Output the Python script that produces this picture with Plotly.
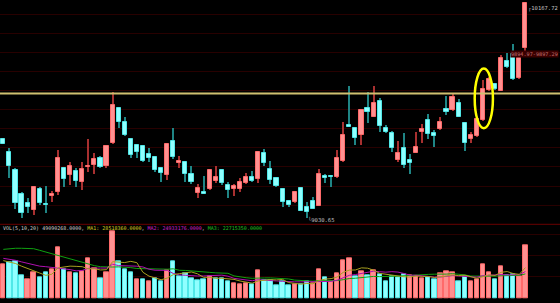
import numpy as np
import pandas as pd
import plotly.graph_objects as go

# ---------------- data ----------------
opens = [9446, 9377, 9284, 9157, 9109, 9074, 9183, 9107, 9146, 9170,
         9293, 9258, 9279, 9223, 9300, 9311, 9349, 9304, 9425, 9609,
         9538, 9447, 9416, 9409, 9367, 9354, 9295, 9258, 9437, 9323,
         9326, 9262, 9162, 9170, 9183, 9225, 9284, 9207, 9184, 9186,
         9217, 9247, 9237, 9375, 9289, 9241, 9184, 9119, 9114, 9188,
         9091, 9121, 9096, 9253, 9253, 9246, 9332, 9523, 9504, 9468,
         9609, 9565, 9649, 9507, 9481, 9337, 9398, 9335, 9375, 9486,
         9547, 9481, 9500, 9605, 9600, 9635, 9530, 9446, 9465, 9547,
         9705, 9737, 9702, 9858, 9893, 9767, 9925]
highs = [9449, 9402, 9293, 9167, 9135, 9196, 9193, 9200, 9174, 9389,
         9296, 9328, 9293, 9328, 9446, 9372, 9359, 9412, 9693, 9612,
         9562, 9451, 9419, 9416, 9398, 9359, 9302, 9425, 9507, 9359,
         9332, 9305, 9212, 9254, 9289, 9307, 9289, 9223, 9211, 9241,
         9268, 9279, 9384, 9395, 9332, 9249, 9188, 9128, 9174, 9191,
         9117, 9144, 9288, 9263, 9258, 9389, 9538, 9726, 9512, 9604,
         9696, 9726, 9662, 9521, 9491, 9439, 9477, 9368, 9486, 9525,
         9577, 9495, 9565, 9675, 9691, 9656, 9533, 9484, 9556, 9758,
         9772, 9741, 9889, 9898, 9946, 9894.97, 10167.72]
lows = [9420, 9241, 9079, 9033, 9059, 9047, 9100, 9059, 9114, 9153,
        9196, 9205, 9193, 9177, 9275, 9262, 9296, 9293, 9419, 9504,
        9465, 9346, 9349, 9328, 9325, 9272, 9223, 9232, 9342, 9293,
        9223, 9212, 9138, 9156, 9181, 9217, 9205, 9135, 9147, 9167,
        9209, 9223, 9216, 9307, 9212, 9193, 9091, 9091, 9109, 9068,
        9030.65, 9077, 9095, 9217, 9196, 9241, 9328, 9509, 9416, 9416,
        9530, 9562, 9486, 9481, 9381, 9328, 9293, 9263, 9372, 9425,
        9446, 9407, 9495, 9574, 9596, 9562, 9386, 9428, 9460, 9544,
        9702, 9705, 9700, 9819, 9758, 9762, 9897.29]
closes = [9423, 9304, 9111, 9058, 9090, 9195, 9109, 9098, 9156, 9346,
          9237, 9304, 9226, 9289, 9304, 9342, 9300, 9411, 9626, 9538,
          9468, 9363, 9381, 9332, 9347, 9286, 9270, 9421, 9351, 9332,
          9262, 9223, 9191, 9156, 9284, 9246, 9217, 9177, 9202, 9219,
          9247, 9226, 9381, 9321, 9232, 9200, 9117, 9100, 9170, 9069,
          9065, 9079, 9263, 9244, 9246, 9346, 9468, 9511, 9451, 9600,
          9588, 9638, 9516, 9486, 9402, 9375, 9311, 9323, 9407, 9500,
          9474, 9465, 9535, 9589, 9667, 9565, 9425, 9468, 9553, 9709,
          9763, 9709, 9872, 9825, 9763, 9872, 10165]
# volume in millions
volumes = [31.8, 33.3, 34.6, 21.8, 18.1, 24.0, 19.3, 24.0, 27.1, 47.6,
           26.8, 24.6, 23.0, 25.5, 37.4, 27.7, 18.7, 24.3, 62.9, 34.2,
           26.8, 24.3, 18.1, 18.0, 16.2, 18.7, 15.6, 25.8, 34.2, 20.8,
           23.3, 18.7, 17.1, 18.0, 20.8, 18.7, 18.7, 16.2, 14.0, 13.1,
           14.0, 13.4, 26.5, 16.5, 17.1, 12.4, 15.6, 11.8, 13.1, 13.1,
           15.6, 14.0, 27.1, 19.6, 15.6, 23.3, 35.8, 37.3, 20.2, 25.5,
           21.8, 26.5, 22.4, 15.6, 20.2, 19.6, 22.7, 21.2, 20.2, 18.7,
           19.3, 17.7, 23.3, 24.9, 24.3, 15.6, 20.2, 15.6, 17.7, 31.7,
           24.0, 17.7, 30.2, 21.2, 22.4, 20.2, 49.090268]
ma5_head = [35.2, 34.0, 32.5, 30.0]
ma10_head = [37.3, 36.5, 35.5, 34.0, 32.5, 31.0, 30.0, 29.5, 29.0]
ma20_head = [45.7, 46.3, 46.7, 46.7, 46.7, 46.3, 44.8, 43.2, 41.7, 39.8,
             37.9, 36.4, 34.8, 33.3, 31.7, 30.5, 29.5, 29.2, 29.2]

low_label = "9030.65"
high_label = "10167.72"
gap_label = "9894.97-9897.29"
yellow_level = 9687

# ---------------- derived ----------------
o = np.array(opens, float); h = np.array(highs, float)
l = np.array(lows, float); c = np.array(closes, float)
v = np.array(volumes, float)
n = len(o)
idx = np.arange(n)
up = c >= o
prev = np.concatenate([[c[0] - 1], c[:-1]])
vup = c >= prev

vs = pd.Series(v)
def ma(win, head):
    r = vs.rolling(win).mean().to_numpy()
    r[:len(head)] = head
    return r
ma5, ma10, ma20 = ma(5, ma5_head), ma(10, ma10_head), ma(20, ma20_head)

RED_FILL, RED_LINE, RED_WICK = "#ff9090", "#ff6a6a", "#a83030"
CY_FILL, CY_LINE, CY_WICK = "#90ffff", "#50e8e8", "#1f8585"

W, H = 560, 303
SEP = 224.3           # pixel row of the pane separator
split = 1 - SEP / H

fig = go.Figure()

# wicks
for mask, col in ((up, RED_WICK), (~up, CY_WICK)):
    fig.add_trace(go.Bar(x=idx[mask], base=l[mask], y=(h - l)[mask], width=0.17,
                         marker=dict(color=col, line=dict(width=0)),
                         xaxis="x", yaxis="y", hoverinfo="skip"))
# bodies
body_lo = np.minimum(o, c)
body_h = np.maximum(np.abs(c - o), 4.0)
for mask, fc, lc in ((up, RED_FILL, RED_LINE), (~up, CY_FILL, CY_LINE)):
    fig.add_trace(go.Bar(x=idx[mask], base=body_lo[mask], y=body_h[mask], width=0.68,
                         marker=dict(color=fc, line=dict(color=lc, width=1)),
                         xaxis="x", yaxis="y"))
# volume
for mask, fc, lc in ((vup, RED_FILL, RED_LINE), (~vup, CY_FILL, CY_LINE)):
    fig.add_trace(go.Bar(x=idx[mask], y=v[mask], width=0.72,
                         marker=dict(color=fc, line=dict(color=lc, width=1)),
                         xaxis="x2", yaxis="y2"))
for arr, col in ((ma20, "#10a010"), (ma10, "#b010b0"), (ma5, "#a8a020")):
    fig.add_trace(go.Scatter(x=idx, y=arr, mode="lines", line=dict(color=col, width=1),
                             xaxis="x2", yaxis="y2"))

xr = [-0.544, 91.7]
fig.update_layout(
    width=W, height=H, margin=dict(l=0, r=0, t=0, b=0),
    paper_bgcolor="black", plot_bgcolor="black", showlegend=False,
    barmode="overlay", bargap=0,
    xaxis=dict(domain=[0, 1], range=xr, visible=False, anchor="y"),
    xaxis2=dict(domain=[0, 1], range=xr, visible=False, anchor="y2", matches="x"),
    yaxis=dict(domain=[split, 1], range=[8998.4, 10178.9], tickmode="array",
               tickvals=list(range(9100, 10101, 100)), showticklabels=False,
               gridcolor="#280000", gridwidth=1, zeroline=False, showline=False),
    yaxis2=dict(domain=[0, split], range=[-4.4, 69.1], tickmode="array",
                tickvals=[20, 40, 60], showticklabels=False,
                gridcolor="#280000", gridwidth=1, zeroline=False, showline=False),
    font=dict(family="DejaVu Sans Mono", size=5, color="#c8c8c8"),
)

# pane separator and yellow level line
fig.add_shape(type="line", xref="paper", yref="paper", x0=0, x1=1, y0=split, y1=split,
              line=dict(color="#6a0000", width=1))
fig.add_shape(type="line", xref="paper", yref="y", x0=0, x1=1, y0=yellow_level, y1=yellow_level,
              line=dict(color="#d0c070", width=2))
# highlight ellipse around the breakout candle
k = 79
fig.add_shape(type="circle", xref="x", yref="y", x0=k - 1.35, x1=k + 1.65,
              y0=l[k] - 40, y1=h[k] + 60, line=dict(color="#ffff00", width=2.5))

# labels
imax = int(np.argmax(h)); imin = int(np.argmin(l))
fig.add_annotation(x=imax, y=h[imax], xref="x", yref="y", text="\u250c" + high_label,
                   showarrow=False, xanchor="left", yanchor="top", xshift=1, yshift=-1,
                   font=dict(size=5.5, color="#c0c0c0"))
fig.add_annotation(x=imin, y=l[imin], xref="x", yref="y", text="\u2514" + low_label,
                   showarrow=False, xanchor="left", yanchor="middle", xshift=-1, yshift=-1,
                   font=dict(size=5.5, color="#c0c0c0"))
fig.add_annotation(x=1, y=(h[n - 2] + l[n - 1]) / 2, xref="paper", yref="y", text=gap_label,
                   showarrow=False, xanchor="right", yanchor="middle", xshift=-1,
                   bgcolor="#3a0000", borderpad=0,
                   font=dict(size=5.2, color="#c07070"))

vol_text = ("<span style='color:#d0d0d0'>VOL(5,10,20) %.4f</span>, "
            "<span style='color:#d8d020'>MA1: %.4f</span>, "
            "<span style='color:#d020d0'>MA2: %.4f</span>, "
            "<span style='color:#20c020'>MA3: %.4f</span>") % (
    v[-1] * 1e6, 28518360, 24933176, 22715350)
fig.add_annotation(x=0, y=1 - 227.7 / H, xref="paper", yref="paper", text=vol_text,
                   showarrow=False, xanchor="left", yanchor="middle", xshift=1,
                   font=dict(size=5.0, color="#d0d0d0"))

fig.write_html("out.html")
